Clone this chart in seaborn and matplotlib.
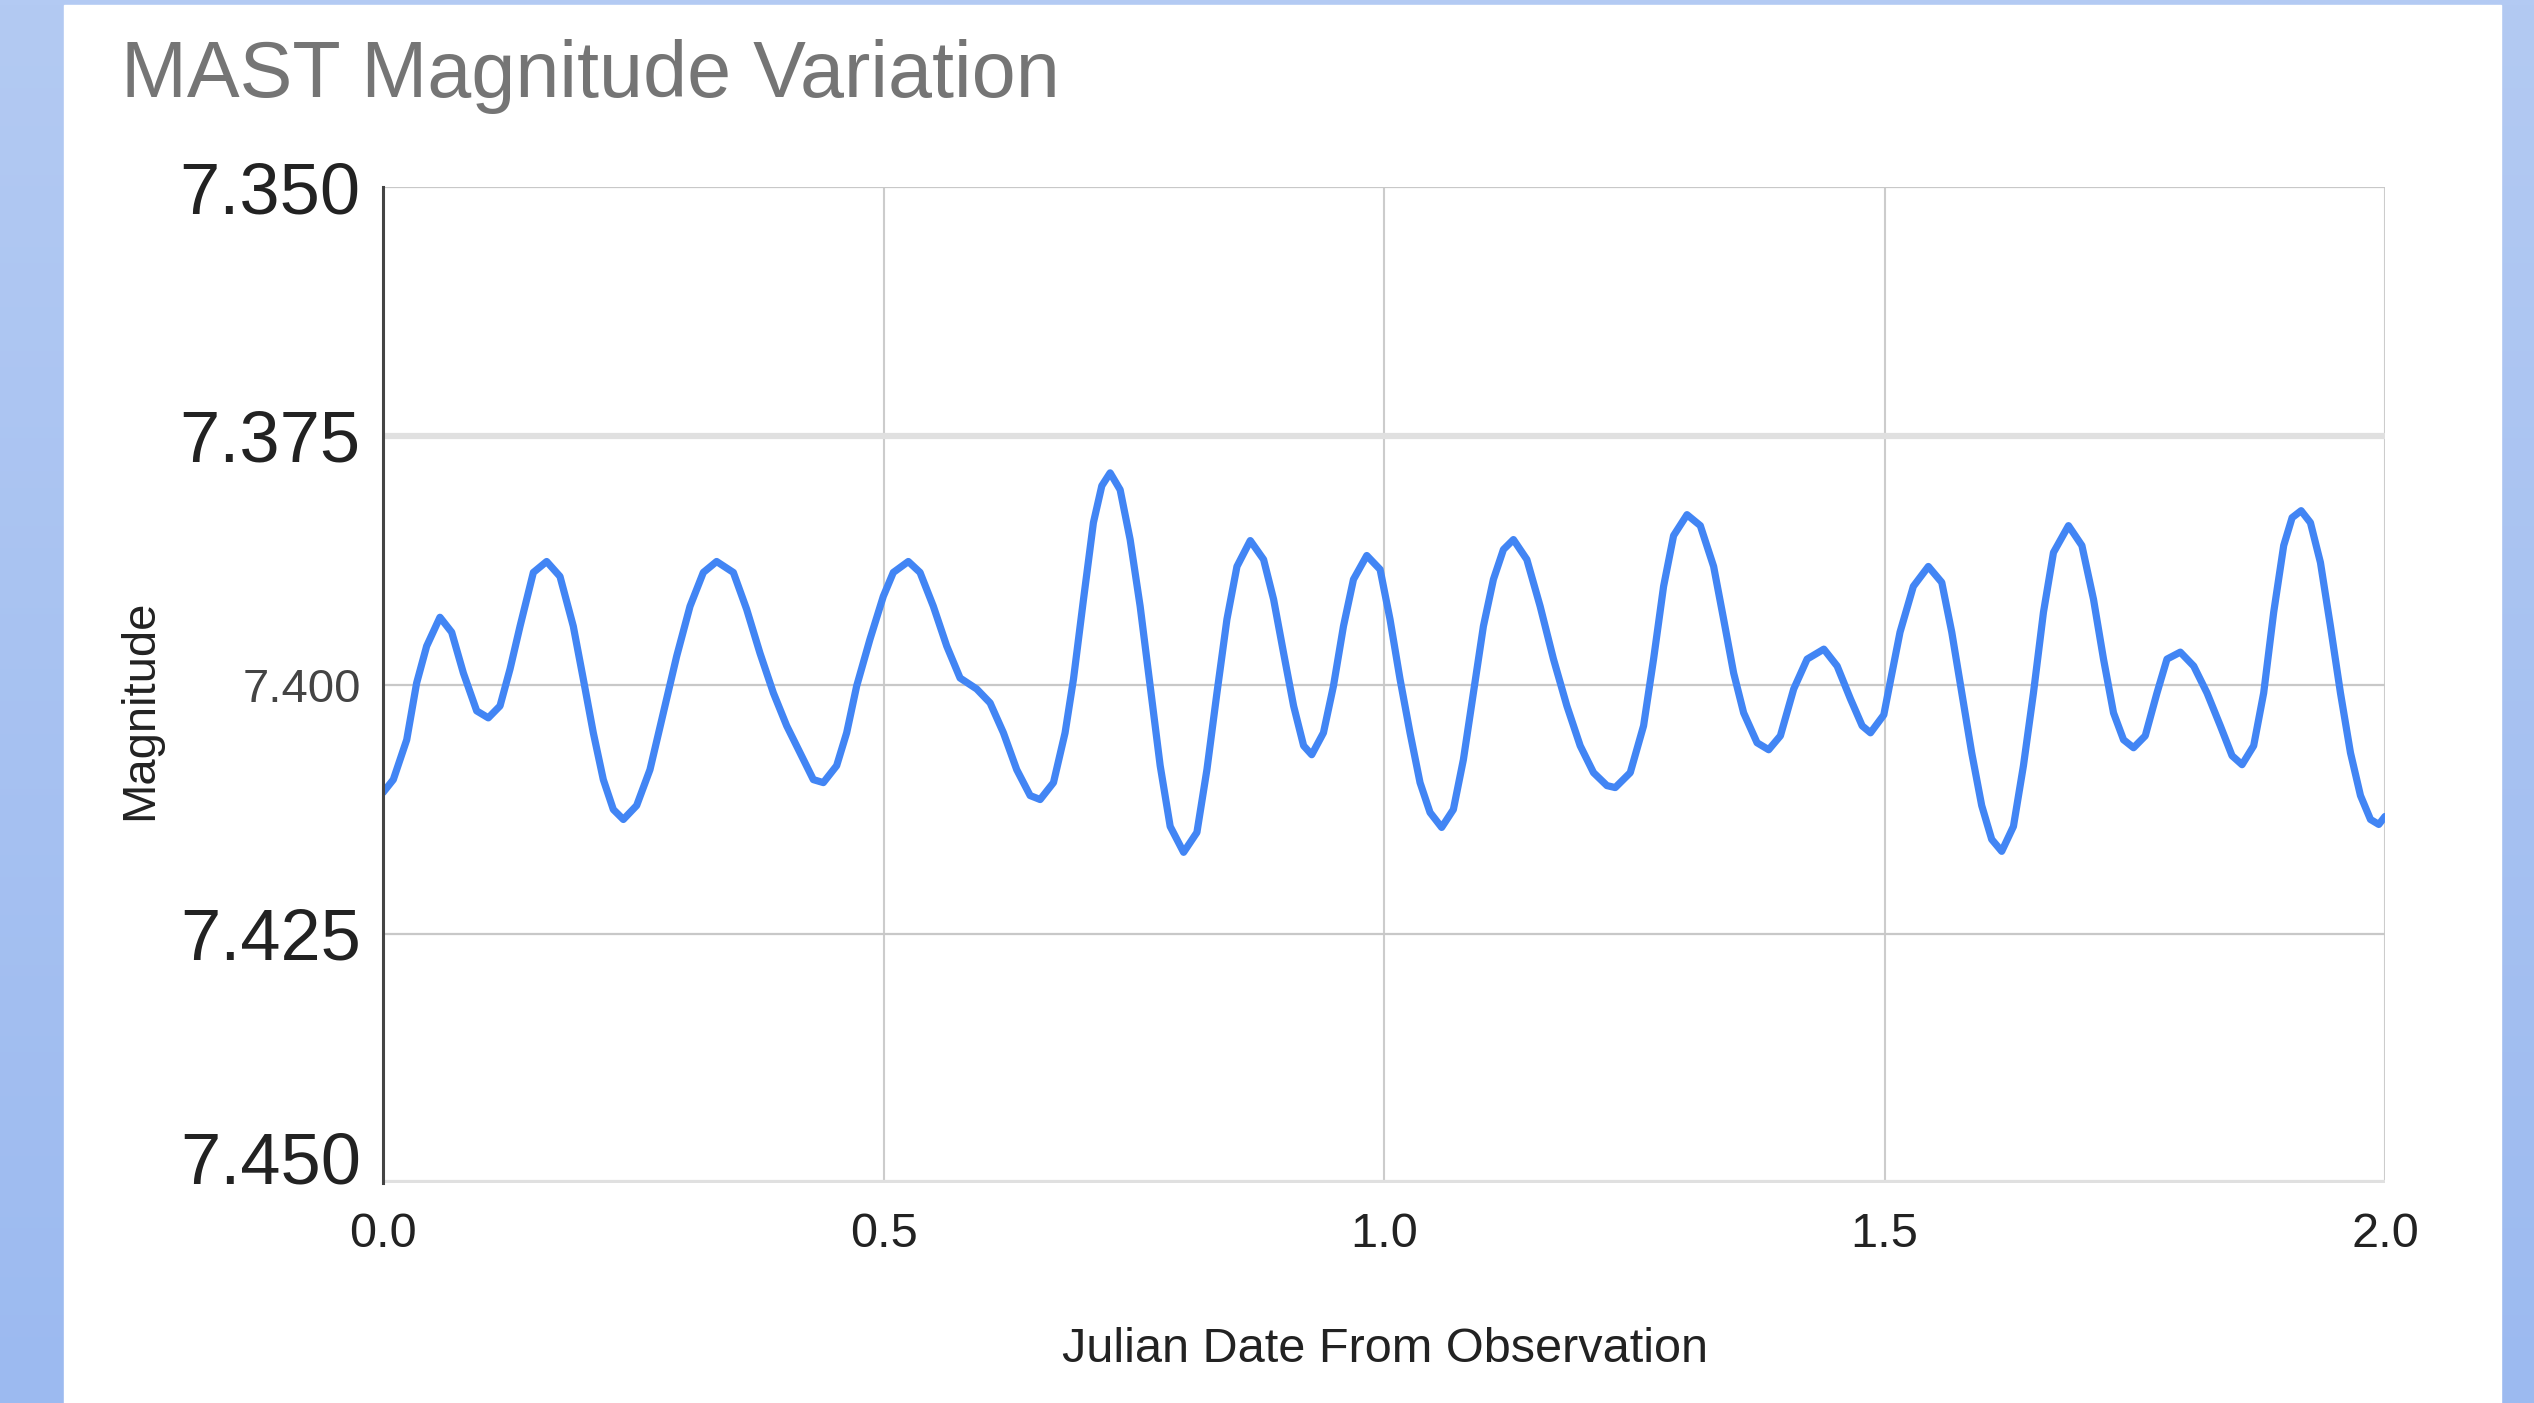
import numpy as np
import matplotlib
matplotlib.use("Agg")
import matplotlib.pyplot as plt
from matplotlib.patches import Rectangle
import seaborn as sns

# ── DATA ────────────────────────────────────────────────────────────────────
jd = [
    0.0000, 0.0103, 0.0237, 0.0336, 0.0436, 0.0569, 0.0686, 0.0803, 0.0936, 0.1052,
    0.1169, 0.1269, 0.1369, 0.1502, 0.1635, 0.1768, 0.1901, 0.2001, 0.2101, 0.2201,
    0.2301, 0.2401, 0.2534, 0.2667, 0.2801, 0.2934, 0.3067, 0.3200, 0.3333, 0.3500,
    0.3633, 0.3766, 0.3900, 0.4033, 0.4166, 0.4299, 0.4399, 0.4532, 0.4632, 0.4732,
    0.4865, 0.4998, 0.5098, 0.5248, 0.5365, 0.5498, 0.5632, 0.5765, 0.5931, 0.6065,
    0.6198, 0.6331, 0.6465, 0.6565, 0.6698, 0.6814, 0.6898, 0.6998, 0.7097, 0.7181,
    0.7264, 0.7364, 0.7464, 0.7564, 0.7664, 0.7764, 0.7864, 0.7998, 0.8131, 0.8231,
    0.8331, 0.8431, 0.8531, 0.8664, 0.8797, 0.8897, 0.8997, 0.9097, 0.9197, 0.9278,
    0.9395, 0.9495, 0.9595, 0.9695, 0.9828, 0.9961, 1.0060, 1.0160, 1.0260, 1.0360,
    1.0460, 1.0576, 1.0693, 1.0793, 1.0893, 1.0993, 1.1093, 1.1193, 1.1293, 1.1427,
    1.1560, 1.1693, 1.1827, 1.1960, 1.2093, 1.2227, 1.2310, 1.2460, 1.2593, 1.2693,
    1.2793, 1.2893, 1.3027, 1.3160, 1.3293, 1.3393, 1.3493, 1.3593, 1.3727, 1.3843,
    1.3960, 1.4093, 1.4227, 1.4394, 1.4527, 1.4660, 1.4777, 1.4860, 1.4993, 1.5055,
    1.5155, 1.5288, 1.5438, 1.5572, 1.5672, 1.5772, 1.5871, 1.5971, 1.6071, 1.6171,
    1.6288, 1.6388, 1.6488, 1.6588, 1.6688, 1.6838, 1.6972, 1.7088, 1.7188, 1.7288,
    1.7388, 1.7488, 1.7605, 1.7722, 1.7822, 1.7955, 1.8089, 1.8222, 1.8355, 1.8472,
    1.8572, 1.8688, 1.8788, 1.8888, 1.8988, 1.9072, 1.9162, 1.9255, 1.9355, 1.9455,
    1.9555, 1.9655, 1.9755, 1.9855, 1.9938, 2.0000,
]
magnitude = [
    7.4108, 7.4095, 7.4055, 7.3998, 7.3961, 7.3932, 7.3947, 7.3988, 7.4026, 7.4033,
    7.4021, 7.3984, 7.3941, 7.3887, 7.3876, 7.3891, 7.3941, 7.3994, 7.4048, 7.4095,
    7.4125, 7.4135, 7.4121, 7.4085, 7.4028, 7.3971, 7.3921, 7.3887, 7.3876, 7.3887,
    7.3924, 7.3968, 7.4008, 7.4041, 7.4068, 7.4095, 7.4098, 7.4081, 7.4048, 7.4001,
    7.3954, 7.3911, 7.3887, 7.3876, 7.3887, 7.3921, 7.3961, 7.3993, 7.4004, 7.4018,
    7.4048, 7.4085, 7.4111, 7.4115, 7.4098, 7.4048, 7.3994, 7.3914, 7.3837, 7.3800,
    7.3787, 7.3804, 7.3854, 7.3921, 7.4001, 7.4081, 7.4142, 7.4168, 7.4148, 7.4085,
    7.4008, 7.3934, 7.3881, 7.3855, 7.3874, 7.3914, 7.3968, 7.4021, 7.4061, 7.4070,
    7.4048, 7.4001, 7.3941, 7.3894, 7.3870, 7.3884, 7.3934, 7.3994, 7.4048, 7.4098,
    7.4128, 7.4143, 7.4125, 7.4075, 7.4008, 7.3941, 7.3894, 7.3864, 7.3854, 7.3874,
    7.3921, 7.3974, 7.4021, 7.4061, 7.4088, 7.4101, 7.4103, 7.4088, 7.4041, 7.3974,
    7.3901, 7.3850, 7.3829, 7.3840, 7.3881, 7.3934, 7.3988, 7.4028, 7.4058, 7.4065,
    7.4051, 7.4004, 7.3974, 7.3964, 7.3981, 7.4014, 7.4041, 7.4048, 7.4030, 7.3998,
    7.3947, 7.3901, 7.3881, 7.3897, 7.3947, 7.4008, 7.4068, 7.4121, 7.4155, 7.4167,
    7.4142, 7.4081, 7.4008, 7.3927, 7.3867, 7.3840, 7.3860, 7.3914, 7.3974, 7.4028,
    7.4055, 7.4063, 7.4051, 7.4008, 7.3974, 7.3967, 7.3981, 7.4008, 7.4041, 7.4071,
    7.4080, 7.4061, 7.4008, 7.3927, 7.3860, 7.3832, 7.3825, 7.3837, 7.3877, 7.3941,
    7.4008, 7.4068, 7.4111, 7.4135, 7.4140, 7.4132,
]

x_ticks = [0.0, 0.5, 1.0, 1.5, 2.0]
x_tick_labels = ["0.0", "0.5", "1.0", "1.5", "2.0"]
y_ticks = [7.350, 7.375, 7.400, 7.425, 7.450]
y_tick_labels = ["7.350", "7.375", "7.400", "7.425", "7.450"]

# ── STYLE ───────────────────────────────────────────────────────────────────
sns.set_theme(style="white")
plt.rcParams["font.family"] = ["Liberation Sans", "DejaVu Sans"]

W, H, DPI = 2534, 1403, 100
LINE_COLOR = "#4285f4"

fig = plt.figure(figsize=(W / DPI, H / DPI), dpi=DPI)

# blue slide background + white card
bg = fig.add_axes([0, 0, 1, 1], zorder=-10)
grad = np.linspace(0, 1, 256)[:, None]
bg.imshow(grad, aspect="auto", extent=[0, 1, 0, 1], origin="upper",
          cmap=matplotlib.colors.LinearSegmentedColormap.from_list("bg", ["#b3caf3", "#9cbaf0"]))
bg.add_patch(Rectangle((64 / W, 0), (2501 - 64) / W, (H - 5) / H, color="white"))
bg.set_xlim(0, 1)
bg.set_ylim(0, 1)
bg.axis("off")

# ── PLOT ────────────────────────────────────────────────────────────────────
ax = fig.add_axes([383 / W, (H - 1183) / H, (2385 - 383) / W, (1183 - 187) / H])
ax.set_facecolor("white")

# grid
for xv in x_ticks[1:]:
    ax.axvline(xv, color="#cccccc", lw=1.5, zorder=1)
for yv in y_ticks:
    if yv in (7.375, 7.450):
        ax.axhline(yv, color="#e0e0e0", lw=4.5, zorder=1)
    else:
        ax.axhline(yv, color="#c8c8c8", lw=1.6, zorder=1)

sns.lineplot(x=jd, y=magnitude, ax=ax, color=LINE_COLOR, linewidth=5.2,
             estimator=None, zorder=3, solid_joinstyle="round",
             solid_capstyle="round")

ax.set_xlim(0, 2)
ax.set_ylim(7.450, 7.350)
ax.set_xticks(x_ticks)
ax.set_xticklabels(x_tick_labels)
ax.set_yticks(y_ticks)
ax.set_yticklabels(y_tick_labels)
ax.tick_params(axis="x", length=0, pad=21, labelsize=35, labelcolor="#222222")
ax.tick_params(axis="y", length=0, pad=16, labelsize=52, labelcolor="#222222")
for lab in ax.get_yticklabels():
    if lab.get_text() == "7.400":
        lab.set_fontsize(34)
        lab.set_color("#444444")
    elif lab.get_text() == "7.450":
        lab.set_verticalalignment("baseline")

for side in ["top", "right", "bottom"]:
    ax.spines[side].set_visible(False)
ax.spines["left"].set_color("#444444")
ax.spines["left"].set_linewidth(2.2)
ax.spines["left"].set_zorder(4)
ax.set_xlabel("")
ax.set_ylabel("")

# ── TEXT ────────────────────────────────────────────────────────────────────
fig.text(121 / W, 1 - 97 / H, "MAST Magnitude Variation", fontsize=57,
         color="#757575", ha="left", va="baseline")
fig.text(1385 / W, 1 - 1349 / H, "Julian Date From Observation", fontsize=35,
         color="#222222", ha="center", va="center")
fig.text(140 / W, 1 - 710 / H, "Magnitude", fontsize=34, color="#222222",
         ha="center", va="center", rotation=90)

fig.savefig("out.png", dpi=DPI)
